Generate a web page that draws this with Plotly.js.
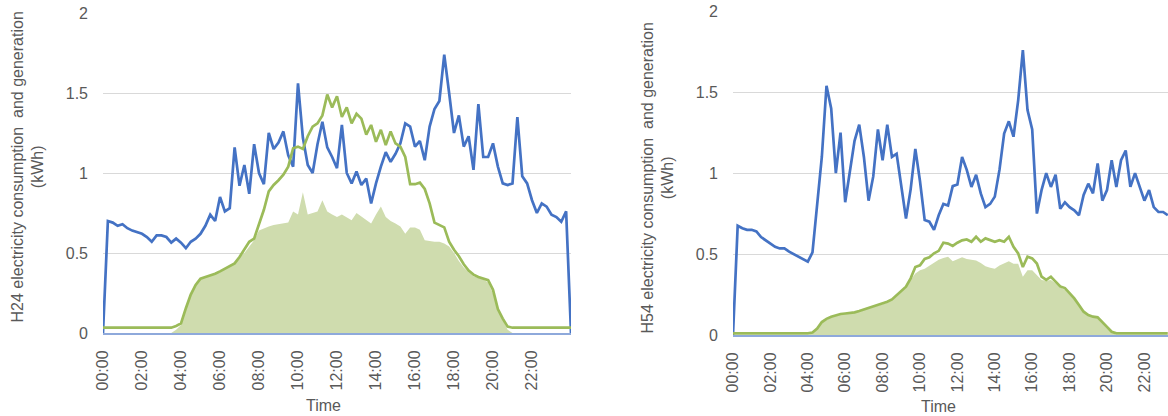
<!DOCTYPE html>
<html>
<head>
<meta charset="utf-8">
<script src="https://cdn.plot.ly/plotly-3.0.1.min.js"></script>
<style>html,body{margin:0;padding:0;background:#fff;}#chart{width:1168px;height:416px;}</style>
</head>
<body>
<div id="chart"></div>
<script>
// Time of day (15-minute readings)
const times = [
"00:00","00:15","00:30","00:45","01:00","01:15","01:30","01:45","02:00","02:15","02:30","02:45",
"03:00","03:15","03:30","03:45","04:00","04:15","04:30","04:45","05:00","05:15","05:30","05:45",
"06:00","06:15","06:30","06:45","07:00","07:15","07:30","07:45","08:00","08:15","08:30","08:45",
"09:00","09:15","09:30","09:45","10:00","10:15","10:30","10:45","11:00","11:15","11:30","11:45",
"12:00","12:15","12:30","12:45","13:00","13:15","13:30","13:45","14:00","14:15","14:30","14:45",
"15:00","15:15","15:30","15:45","16:00","16:15","16:30","16:45","17:00","17:15","17:30","17:45",
"18:00","18:15","18:30","18:45","19:00","19:15","19:30","19:45","20:00","20:15","20:30","20:45",
"21:00","21:15","21:30","21:45","22:00","22:15","22:30","22:45","23:00","23:15","23:30","23:45","24:00"];

const tickLabels = ["00:00","02:00","04:00","06:00","08:00","10:00","12:00","14:00","16:00","18:00","20:00","22:00"];

// H24
const h24Consumption = [
0,0.70,0.69,0.67,0.68,0.655,0.64,0.63,0.62,0.60,0.57,0.61,
0.61,0.60,0.565,0.59,0.565,0.53,0.57,0.59,0.62,0.67,0.74,0.70,
0.85,0.76,0.78,1.16,0.92,1.05,0.87,1.18,1.00,0.93,1.25,1.15,
1.19,1.26,1.11,1.04,1.56,1.22,1.05,1.00,1.18,1.32,1.16,1.10,
1.03,1.30,1.00,0.935,1.01,0.925,0.965,0.81,0.935,1.04,1.13,1.07,
1.12,1.185,1.31,1.29,1.165,1.20,1.08,1.29,1.40,1.45,1.74,1.50,
1.25,1.36,1.165,1.23,1.02,1.43,1.10,1.10,1.185,1.04,0.935,0.925,
0.935,1.35,0.98,0.935,0.83,0.75,0.81,0.79,0.74,0.725,0.695,0.76,0];

const h24Generation = [
0.033,0.033,0.033,0.033,0.033,0.033,0.033,0.033,0.033,0.033,0.033,0.033,
0.033,0.033,0.033,0.044,0.06,0.155,0.24,0.30,0.34,0.35,0.36,0.37,
0.385,0.40,0.42,0.435,0.475,0.52,0.57,0.59,0.685,0.77,0.885,0.925,
0.955,0.99,1.04,1.155,1.165,1.15,1.23,1.29,1.31,1.36,1.49,1.41,
1.48,1.35,1.41,1.31,1.37,1.34,1.24,1.30,1.195,1.27,1.175,1.26,
1.185,1.165,1.10,0.93,0.93,0.94,0.90,0.81,0.69,0.675,0.66,0.57,
0.52,0.48,0.43,0.39,0.365,0.35,0.34,0.33,0.27,0.15,0.09,0.04,
0.033,0.033,0.033,0.033,0.033,0.033,0.033,0.033,0.033,0.033,0.033,0.033,0.033];

const h24GenerationArea = [
0,0,0,0,0,0,0,0,0,0,0,0,
0,0,0,0.02,0.05,0.15,0.24,0.30,0.34,0.35,0.36,0.37,
0.38,0.40,0.42,0.43,0.47,0.50,0.54,0.58,0.64,0.655,0.665,0.675,
0.68,0.685,0.69,0.76,0.74,0.88,0.74,0.75,0.76,0.83,0.76,0.74,
0.725,0.74,0.72,0.705,0.75,0.73,0.71,0.685,0.74,0.79,0.725,0.70,
0.685,0.665,0.62,0.66,0.66,0.645,0.58,0.575,0.57,0.57,0.56,0.54,
0.50,0.45,0.41,0.38,0.355,0.345,0.335,0.315,0.245,0.15,0.08,0.02,
0,0,0,0,0,0,0,0,0,0,0,0,0];

// H54
const h54Consumption = [
0,0.675,0.66,0.65,0.65,0.64,0.605,0.585,0.56,0.545,0.535,0.535,
0.515,0.50,0.48,0.467,0.453,0.51,0.80,1.10,1.54,1.40,1.00,1.25,
0.82,1.00,1.20,1.30,1.10,0.83,0.98,1.27,1.08,1.30,1.10,1.12,
0.92,0.72,0.90,1.15,0.95,0.71,0.70,0.65,0.74,0.81,0.80,0.92,
0.93,1.10,1.02,0.915,0.99,0.875,0.79,0.81,0.855,1.02,1.245,1.32,
1.225,1.45,1.76,1.39,1.27,0.75,0.895,1.00,0.915,0.99,0.78,0.82,
0.79,0.77,0.74,0.865,0.935,0.875,1.06,0.83,0.895,1.08,0.915,1.08,
1.14,0.915,1.00,0.915,0.83,0.895,0.79,0.76,0.76,0.74,null,null,null];

const h54Generation = [
0.01,0.01,0.01,0.01,0.01,0.01,0.01,0.01,0.01,0.01,0.01,0.01,
0.01,0.01,0.01,0.01,0.01,0.015,0.04,0.08,0.10,0.113,0.122,0.13,
0.133,0.136,0.14,0.148,0.158,0.166,0.175,0.185,0.195,0.205,0.22,0.245,
0.275,0.298,0.35,0.42,0.43,0.47,0.48,0.505,0.52,0.57,0.565,0.55,
0.57,0.585,0.59,0.576,0.607,0.576,0.597,0.586,0.576,0.586,0.576,0.607,
0.545,0.504,0.42,0.484,0.473,0.442,0.36,0.34,0.36,0.33,0.30,0.29,
0.257,0.226,0.185,0.144,0.123,0.113,0.109,0.082,0.05,0.02,0.01,0.01,
0.01,0.01,0.01,0.01,0.01,0.01,0.01,0.01,0.01,0.01,null,null,null];

const h54GenerationArea = [
0,0,0,0,0,0,0,0,0,0,0,0,
0,0,0,0,0,0.01,0.035,0.075,0.095,0.11,0.12,0.127,
0.13,0.133,0.137,0.145,0.155,0.163,0.172,0.182,0.19,0.20,0.215,0.24,
0.27,0.29,0.34,0.38,0.40,0.41,0.43,0.445,0.465,0.475,0.484,0.455,
0.47,0.48,0.47,0.465,0.46,0.445,0.425,0.415,0.41,0.43,0.445,0.455,
0.44,0.44,0.36,0.40,0.40,0.37,0.34,0.335,0.34,0.32,0.295,0.28,
0.25,0.22,0.18,0.14,0.12,0.11,0.105,0.078,0.045,0.015,0,0,
0,0,0,0,0,0,0,0,0,0,null,null,null];

function toHours(t){ const p = t.split(":"); return parseInt(p[0],10) + parseInt(p[1],10)/60; }
const hrs = times.map(toHours);
const tickHrs = tickLabels.map(toHours);

const BLUE = "#4472C4", GREEN = "#9BBB59", FILL = "#CFDCAE";
const FONT = "Liberation Sans, Arial, sans-serif";
const W = 1168, H = 416;

function area(y, xa, ya){ return {x: hrs, y: y, xaxis: xa, yaxis: ya, type: "scatter", mode: "lines", fill: "tozeroy", fillcolor: FILL, line: {width: 0, color: FILL}, hoverinfo: "skip"}; }
function line(y, c, xa, ya){ return {x: hrs, y: y, xaxis: xa, yaxis: ya, type: "scatter", mode: "lines", line: {color: c, width: 2.7}, connectgaps: false}; }

const data = [
  area(h24GenerationArea, "x", "y"),
  line(h24Consumption, BLUE, "x", "y"),
  line(h24Generation, GREEN, "x", "y"),
  area(h54GenerationArea, "x2", "y2"),
  line(h54Consumption, BLUE, "x2", "y2"),
  line(h54Generation, GREEN, "x2", "y2")
];

function xax(domain, range){
  return {domain: domain, range: range, tickvals: tickHrs, ticktext: tickLabels, tickangle: -90,
    tickfont: {family: FONT, size: 16, color: "#595959"}, ticks: "", ticklabelstandoff: 9,
    showgrid: false, zeroline: false, showline: true, linecolor: "#8EA9DB", linewidth: 2, fixedrange: true};
}
function yax(domain, anchor){
  return {domain: domain, anchor: anchor, range: [0, 2], tickvals: [0, 0.5, 1, 1.5, 2], ticktext: ["0","0.5","1","1.5","2"],
    tickfont: {family: FONT, size: 16, color: "#595959"}, ticks: "", ticklabelstandoff: 14,
    showgrid: true, gridcolor: "#D9D9D9", gridwidth: 1, zeroline: false, showline: false, fixedrange: true};
}

const layout = {
  width: W, height: H, margin: {l: 0, r: 0, t: 0, b: 0}, showlegend: false,
  paper_bgcolor: "#fff", plot_bgcolor: "#fff",
  xaxis: Object.assign(xax([103/W, 571/W], [0, 24]), {anchor: "y"}),
  yaxis: yax([(H-333)/H, (H-13)/H], "x"),
  xaxis2: Object.assign(xax([733/W, 1], [0, (W-733)/18.7]), {anchor: "y2"}),
  yaxis2: yax([(H-335)/H, (H-11.3)/H], "x2"),
  annotations: [
    {xref: "paper", yref: "paper", x: 27.5/W, y: (H-167)/H, xanchor: "center", yanchor: "middle", textangle: -90, showarrow: false,
     text: "H24 electricity consumption&nbsp; and generation<br>(kWh)", font: {family: FONT, size: 16, color: "#595959"}},
    {xref: "paper", yref: "paper", x: 657.5/W, y: (H-178)/H, xanchor: "center", yanchor: "middle", textangle: -90, showarrow: false,
     text: "H54 electricity consumption&nbsp; and generation<br>(kWh)", font: {family: FONT, size: 16, color: "#595959"}},
    {xref: "paper", yref: "paper", x: 323/W, y: (H-405)/H, xanchor: "center", yanchor: "middle", showarrow: false,
     text: "Time", font: {family: FONT, size: 16, color: "#595959"}},
    {xref: "paper", yref: "paper", x: 938/W, y: (H-406)/H, xanchor: "center", yanchor: "middle", showarrow: false,
     text: "Time", font: {family: FONT, size: 16, color: "#595959"}}
  ]
};

Plotly.newPlot("chart", data, layout, {displayModeBar: false, staticPlot: true});
</script>
</body>
</html>
